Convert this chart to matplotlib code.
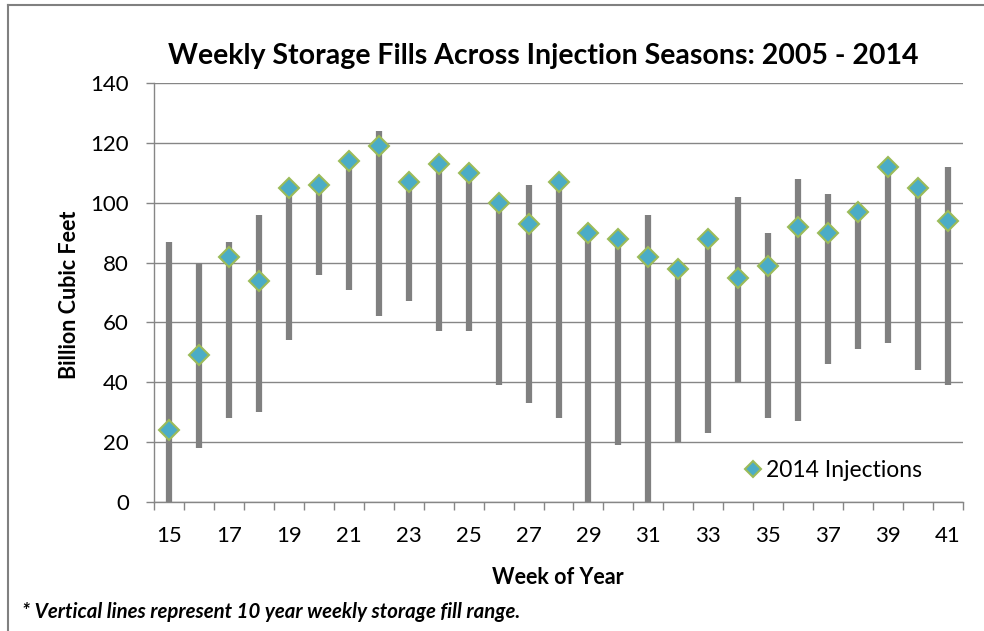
import matplotlib
matplotlib.use("Agg")
import matplotlib.pyplot as plt
from matplotlib.lines import Line2D
import numpy as np

plt.rcParams['font.family'] = ['Lato', 'DejaVu Sans']

weeks = list(range(15, 42))
injections_2014 = [24, 49, 82, 74, 105, 106, 114, 119, 107, 113, 110, 100, 93, 107,
                   90, 88, 82, 78, 88, 75, 79, 92, 90, 97, 112, 105, 94]
range_min = [0, 18, 28, 30, 54, 76, 71, 62, 67, 57, 57, 39, 33, 28,
             0, 19, 0, 20, 23, 40, 28, 27, 46, 51, 53, 44, 39]
range_max = [87, 80, 87, 96, 105, 106, 114, 124, 107, 113, 110, 100, 106, 107,
             90, 88, 96, 78, 88, 102, 90, 108, 103, 97, 112, 105, 112]
x_tick_labels = [str(w) for w in weeks[::2]]
y_ticks = [0, 20, 40, 60, 80, 100, 120, 140]

W, H = 984, 631
fig = plt.figure(figsize=(W / 100, H / 100), dpi=100)
ax = fig.add_axes([154 / W, 1 - 502 / H, (963 - 154) / W, (502 - 83) / H])

grid_c = '#868686'
ax.vlines(weeks, range_min, range_max, colors='#808080', linewidth=4.5, zorder=3)
ax.plot(weeks, injections_2014, linestyle='none', marker='D', markersize=10.5,
        markerfacecolor='#4BACC6', markeredgecolor='#9BBB59', markeredgewidth=1.5,
        zorder=4, label='2014 Injections')

ax.set_xlim(14.5, 41.5)
ax.set_ylim(0, 140)
ax.set_yticks(y_ticks)
ax.set_xticks(weeks[::2])
ax.set_xticklabels(x_tick_labels)
ax.set_xticks(np.arange(14.5, 42, 1), minor=True)
ax.tick_params(axis='x', which='major', length=0, pad=17, labelsize=16)
ax.tick_params(axis='x', which='minor', length=6, width=1, color=grid_c, direction='out')
ax.tick_params(axis='y', which='major', length=6, width=1, color=grid_c, pad=12, labelsize=16)
ax.yaxis.grid(True, color=grid_c, linewidth=1)
ax.set_axisbelow(True)
for s in ['top', 'right']:
    ax.spines[s].set_visible(False)
for s in ['left', 'bottom']:
    ax.spines[s].set_color(grid_c)
    ax.spines[s].set_linewidth(1)

fig.text(70 / W, 1 - 295 / H, 'Billion Cubic Feet', fontsize=15.5, fontweight='bold',
         rotation=90, ha='center', va='center')
fig.text(558 / W, 1 - 578 / H, 'Week of Year', fontsize=15.5, fontweight='bold',
         ha='center', va='center')
fig.text(543 / W, 1 - 56 / H, 'Weekly Storage Fills Across Injection Seasons: 2005 - 2014',
         fontsize=20.5, fontweight='bold', ha='center', va='center')
fig.text(22 / W, 1 - 612 / H, '* Vertical lines represent 10 year weekly storage fill range.',
         fontsize=14.7, fontweight='bold', fontstyle='italic', ha='left', va='center')

leg = ax.legend(loc='lower right', bbox_to_anchor=(933 / W, 1 - 492 / H),
                bbox_transform=fig.transFigure, frameon=False, fontsize=16.5,
                handlelength=0.5, handletextpad=0.3, borderpad=0, markerscale=0.75)

# outer frame (partially cropped in original)
fig.add_artist(Line2D([8 / W, 8 / W], [0, 1 - 4.5 / H], color='#808080', linewidth=1.5,
                      transform=fig.transFigure))
fig.add_artist(Line2D([8 / W, 1], [1 - 4.5 / H, 1 - 4.5 / H], color='#808080', linewidth=1.5,
                      transform=fig.transFigure))

fig.savefig('out.png', dpi=100)
